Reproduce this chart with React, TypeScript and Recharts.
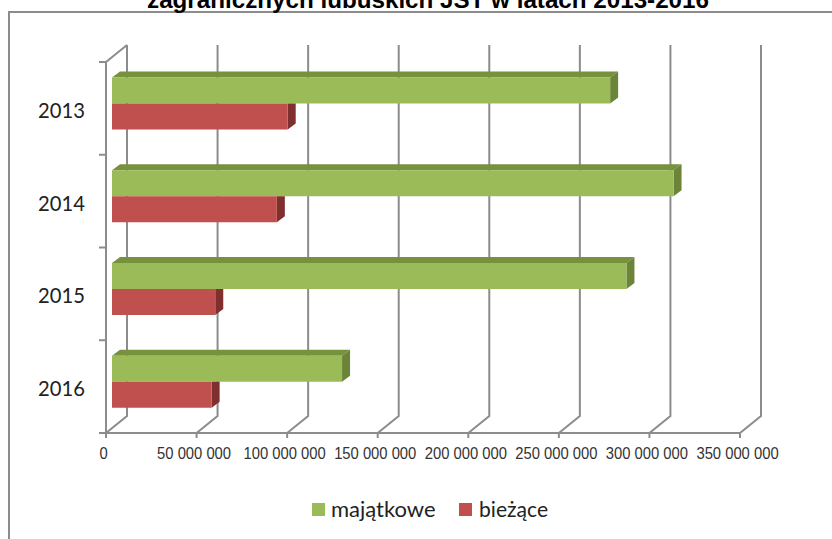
import { BarChart, Bar, XAxis, YAxis, CartesianGrid } from 'recharts';

const years = ['2013', '2014', '2015', '2016'];
const majatkowe = [275000000, 310000000, 284000000, 127000000];
const biezace = [97000000, 91000000, 57000000, 55000000];
const xTicks = [0, 50000000, 100000000, 150000000, 200000000, 250000000, 300000000, 350000000];

const data = years.map((year, i) => ({ year, majatkowe: majatkowe[i], biezace: biezace[i] }));

const GRID = '#8c8c8c';
const DX = 21;
const DY = 17;

// value 0 sits a bit inside the front wall, the bars stand mid-depth
const BAR_DX = 6;
const BAR_DY = -4.5;
const BAR_DEPTH = 8;
const BAR_RISE = 6;

const formatTick = (v: number) => String(v).replace(/\B(?=(\d{3})+(?!\d))/g, ' ');

const GridLine = ({ x1, y1, y2 }: any) => (
  <g>
    <polyline
      points={`${x1},${y2} ${x1 + DX},${y2 - DY} ${x1 + DX},${y1 - DY}`}
      fill="none"
      stroke={GRID}
      strokeWidth={2}
    />
    {x1 < 110 && (
      <line x1={x1} y1={y1} x2={x1 + DX} y2={y1 - DY} stroke={GRID} strokeWidth={2} />
    )}
  </g>
);

const Bar3D = ({ x, y, width, height, front, top, side, noTop }: any) => {
  const fx = x + BAR_DX;
  const fy = y + BAR_DY;
  const r = fx + width;
  const back = r + BAR_DEPTH;
  return (
    <g>
      {!noTop && (
        <polygon points={`${fx},${fy} ${fx + BAR_DEPTH},${fy - BAR_RISE} ${back},${fy - BAR_RISE} ${r},${fy}`} fill={top} />
      )}
      <polygon
        points={`${r},${fy} ${back},${noTop ? fy : fy - BAR_RISE} ${back},${fy + height - BAR_RISE} ${r},${fy + height}`}
        fill={side}
      />
      <rect x={fx} y={fy} width={width} height={height} fill={front} />
    </g>
  );
};

// the value labels are a squeezed Arial in the original
const ValueTick = ({ x, y, payload }: any) => (
  <text
    transform={`translate(${x - 2.5},${y + 19}) scale(0.87,1)`}
    textAnchor="middle"
    fontFamily="Liberation Sans"
    fontSize={17}
    fill="#333"
  >
    {formatTick(payload.value)}
  </text>
);

// category tick marks sit on the band edges, not at the label
const YearTick = ({ x, y, height, index, payload }: any) => {
  const band = height / years.length;
  return (
    <g>
      <line x1={x + 1} x2={x + 8} y1={y - band / 2} y2={y - band / 2} stroke={GRID} strokeWidth={2} />
      {index === years.length - 1 && (
        <line x1={x + 1} x2={x + 8} y1={y + band / 2} y2={y + band / 2} stroke={GRID} strokeWidth={2} />
      )}
      <text
        transform={`translate(${x - 13},${y + 9.5}) scale(0.92,1)`}
        textAnchor="end"
        fontFamily="Lato"
        fontSize={22}
        fill="#222"
      >
        {payload.value}
      </text>
    </g>
  );
};

const ChartLegend = () => (
  <div
    style={{
      position: 'absolute',
      left: 312,
      top: 495,
      display: 'flex',
      alignItems: 'center',
      fontFamily: 'Lato',
      fontSize: 22,
      lineHeight: '28px',
      color: '#222',
      whiteSpace: 'nowrap',
    }}
  >
    <span style={{ width: 13, height: 13, background: '#9bbb59', marginRight: 6 }} />
    <span style={{ marginRight: 23 }}>majątkowe</span>
    <span style={{ width: 13, height: 13, background: '#c0504d', marginRight: 7 }} />
    <span style={{ display: 'inline-block', transform: 'scaleX(0.96)', transformOrigin: 'left' }}>bieżące</span>
  </div>
);

export default function App() {
  return (
    <div style={{ position: 'absolute', left: 0, top: 0, width: 832, height: 539, overflow: 'hidden', background: '#fff' }}>
      <div
        style={{
          position: 'absolute',
          left: 8,
          top: 11,
          width: 840,
          height: 560,
          border: '2px solid #8c8c8c',
          boxSizing: 'border-box',
        }}
      />
      <div
        style={{
          position: 'absolute',
          left: 0,
          width: 856,
          top: -12,
          textAlign: 'center',
          fontFamily: 'Liberation Sans',
          fontWeight: 'bold',
          fontSize: 24.2,
          lineHeight: '24px',
          color: '#000',
          whiteSpace: 'nowrap',
        }}
      >
        zagranicznych lubuskich JST w latach 2013-2016
      </div>
      <BarChart
        width={832}
        height={539}
        data={data}
        layout="vertical"
        margin={{ top: 62, right: 92, bottom: 76, left: 0 }}
        barSize={26}
        barGap={0}
        style={{ position: 'absolute', left: 0, top: 0 }}
      >
        <CartesianGrid horizontal={false} vertical={(props: any) => <GridLine key={props.key} {...props} />} />
        <XAxis
          type="number"
          domain={[0, 350000000]}
          ticks={xTicks}
          interval={0}
          height={30}
          tick={<ValueTick />}
          tickSize={5}
          stroke={GRID}
          strokeWidth={2}
        />
        <YAxis
          type="category"
          dataKey="year"
          width={106}
          tick={<YearTick />}
          tickLine={false}
          stroke={GRID}
          strokeWidth={2}
        />
        <Bar
          dataKey="majatkowe"
          name="majątkowe"
          fill="#9bbb59"
          isAnimationActive={false}
          shape={(p: any) => <Bar3D {...p} front="#9bbb59" top="#76923c" side="#6b8438" />}
        />
        <Bar
          dataKey="biezace"
          name="bieżące"
          fill="#c0504d"
          isAnimationActive={false}
          shape={(p: any) => <Bar3D {...p} noTop front="#c0504d" side="#7f2f2d" />}
        />
      </BarChart>
      <ChartLegend />
    </div>
  );
}
